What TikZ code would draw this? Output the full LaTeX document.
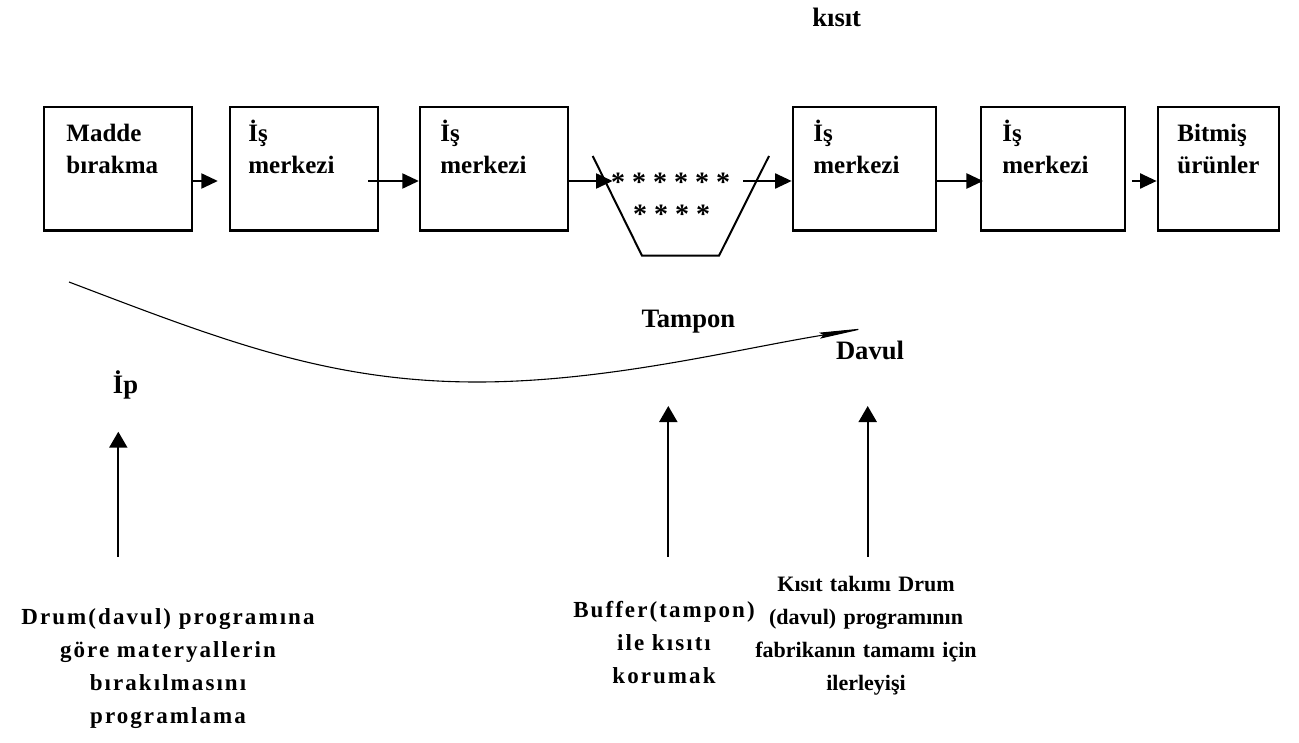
\documentclass[tikz,border=0pt]{standalone}
\usepackage{fontspec}
\setmainfont{Liberation Serif}
\newfontfamily\spacedfont[LetterSpace=9]{Liberation Serif}
\usetikzlibrary{arrows.meta,calc}
\begin{document}
\begin{tikzpicture}[x=0.5pt,y=-0.5pt,
  wbox/.style={draw,line width=1.15pt,minimum height=61.9pt,inner sep=0pt},
  boxtxt/.style={anchor=base west,inner sep=0pt,text width=70pt,align=left,font=\fontsize{12.5}{16}\selectfont\bfseries},
  lbl/.style={anchor=base,inner sep=0pt,font=\fontsize{13.3}{16}\selectfont\bfseries},
  stars/.style={anchor=base,inner sep=0pt,font=\fontsize{14}{16}\selectfont\bfseries},
  flow/.style={line width=1.15pt,-{Triangle[length=8.3pt,width=7.5pt]}},
  up/.style={line width=1pt,-{Triangle[length=8pt,width=9pt]}},
  note/.style={anchor=base,inner sep=0pt,text width=#1,align=center},
  spaced/.style={font=\fontsize{11.5}{16.5}\selectfont\spacedfont\bfseries},
  plainb/.style={font=\fontsize{11}{16.5}\selectfont\bfseries}]
\useasboundingbox (0,0) rectangle (1299,743);

% boxes
\node[wbox,minimum width=74pt] (b1) at (118,168.7) {};
\node[wbox,minimum width=74pt] (b2) at (304,168.7) {};
\node[wbox,minimum width=74pt] (b3) at (494,168.7) {};
\node[wbox,minimum width=71.7pt] (b4) at (864.5,168.7) {};
\node[wbox,minimum width=71.8pt] (b5) at (1053,168.7) {};
\node[wbox,minimum width=60.5pt] (b6) at (1218.3,168.7) {};

\node[boxtxt] (t1) at (66,142) {Madde\\bırakma};
\node[boxtxt] (t2) at (248,142) {İş\\merkezi};
\node[boxtxt] (t3) at (440,142) {İş\\merkezi};
\node[boxtxt] (t4) at (813,142) {İş\\merkezi};
\node[boxtxt] (t5) at (1002,142) {İş\\merkezi};
\node[boxtxt] (t6) at (1177,142) {Bitmiş\\ürünler};

% buffer funnel
\draw[line width=1pt] (592.7,156) -- (642,255.7) -- (719,255.7) -- (769,156);
\node[stars] (s1) at (670.5,191.5) {* * * * * *};
\node[stars] (s2) at (671.5,223.5) {* * * *};

% flow arrows
\coordinate (ay) at (0,181);
\coordinate (f4) at (743,181);
\draw[flow,shorten >=5.5pt] (b1.east |- ay) -- (b2.west |- ay);
\draw[flow,shorten <=-5.5pt] (b2.east |- ay) -- (b3.west |- ay);
\draw[flow] (b3.east |- ay) -- ([xshift=1pt]s1.west |- ay);
\draw[flow] (f4) -- (b4.west |- ay);
\draw[flow,shorten >=-1.5pt] (b4.east |- ay) -- (b5.west |- ay);
\draw[flow,shorten <=3pt] (b5.east |- ay) -- (b6.west |- ay);

% labels
\node[lbl] (kisit) at (836.7,27) {kısıt};
\node[lbl] (tampon) at (688.4,327) {Tampon};
\node[lbl] (davul) at (870,359) {Davul};
\node[lbl] (ip) at (125.5,393) {İp};

% rope curve
\coordinate (c0) at (69,282);
\coordinate (c1) at (477,382);
\coordinate (c2) at (867,328);
\draw[line width=0.55pt,-{Stealth[length=24pt,width=3pt,inset=2pt]}] (c0) .. controls (219,339) and (327,382) .. (c1) .. controls (607,382) and (737,349) .. (c2);

% vertical arrows
\coordinate (v1a) at (118.3,556.7);
\coordinate (v1b) at (118.3,431.7);
\coordinate (v2a) at (668.3,556.7);
\coordinate (v2b) at (668.3,406);
\coordinate (v3a) at (867.7,556.7);
\coordinate (v3b) at (867.7,406);
\draw[up] (v1a) -- (v1b);
\draw[up] (v2a) -- (v2b);
\draw[up] (v3a) -- (v3b);

% bottom notes
\node[note=175pt,spaced] (n1) at (168,624) {Drum(davul) programına\\göre materyallerin\\bırakılmasını\\programlama};
\node[note=120pt,spaced] (n2) at (664,617) {Buffer(tampon)\\ile kısıtı\\korumak};
\node[note=130pt,plainb] (n3) at (866,591) {Kısıt takımı Drum\\(davul) programının\\fabrikanın tamamı için\\ilerleyişi};
\end{tikzpicture}
\end{document}
